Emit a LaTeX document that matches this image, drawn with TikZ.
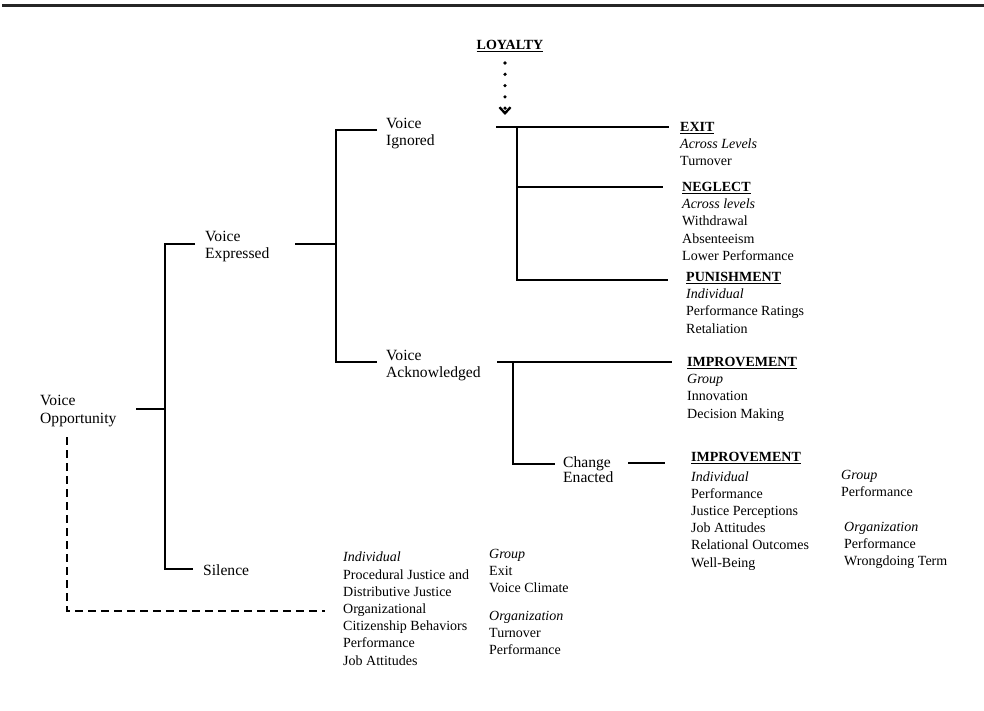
\documentclass[tikz,border=0pt]{standalone}
\usepackage{fontspec}
\setmainfont{Liberation Serif}
\usetikzlibrary{arrows.meta}
\tikzset{
  lab/.style={anchor=north west, inner sep=0pt, align=left, font=\fontsize{15.6}{17.6}\selectfont},
  txt/.style={anchor=north west, inner sep=0pt, align=left, font=\fontsize{14}{17.2}\selectfont},
  conn/.style={line width=2.8pt, line join=miter},
  dashconn/.style={line width=2.6pt, dash pattern=on 8pt off 5pt},
}
\begin{document}
\begin{tikzpicture}[x=1pt,y=-1pt]
\useasboundingbox (0,0) rectangle (984,711);
% top rule
\coordinate (r1) at (2,5.5); \coordinate (r2) at (984,5.5);
\draw[line width=2.2pt, black!85] (r1) -- (r2);

% labels
\node[lab] (vo) at (40,395) {Voice\\Opportunity};
\node[lab] (ve) at (205,230.5) {Voice\\Expressed};
\node[lab] (vi) at (386,117.5) {Voice\\Ignored};
\node[lab] (va) at (386,349.5) {Voice\\Acknowledged};
\node[lab, font=\fontsize{15.6}{14.5}\selectfont] (ce) at (563,456.5) {Change\\Enacted};
\node[lab] (si) at (203,564.5) {Silence};

% loyalty
\node[anchor=center, inner sep=0pt, font=\fontsize{14}{17}\selectfont\bfseries] (loy) at (510,46) {\underline{LOYALTY}};

% outcome blocks
\node[txt] (exit) at (680,122) {\underline{\textbf{EXIT}}\\\textit{Across Levels}\\Turnover};
\node[txt] (neg) at (682,182) {\underline{\textbf{NEGLECT}}\\\textit{Across levels}\\Withdrawal\\Absenteeism\\Lower Performance};
\node[txt] (pun) at (686,272) {\underline{\textbf{PUNISHMENT}}\\\textit{Individual}\\Performance Ratings\\Retaliation};
\node[txt] (imp1) at (687,357) {\underline{\textbf{IMPROVEMENT}}\\\textit{Group}\\Innovation\\Decision Making};
\node[txt] (imp2) at (691,452) {\underline{\textbf{IMPROVEMENT}}\\[2.5pt]\textit{Individual}\\Performance\\Justice Perceptions\\Job Attitudes\\Relational Outcomes\\Well-Being};
\node[txt] (impg) at (841,470) {\textit{Group}\\Performance};
\node[txt] (impo) at (844,522) {\textit{Organization}\\Performance\\Wrongdoing Term};
\node[txt] (sind) at (343,552) {\textit{Individual}\\Procedural Justice and\\Distributive Justice\\Organizational\\Citizenship Behaviors\\Performance\\Job Attitudes};
\node[txt] (sgrp) at (489,549) {\textit{Group}\\Exit\\Voice Climate};
\node[txt] (sorg) at (489,611) {\textit{Organization}\\Turnover\\Performance};

% junction coordinates
\coordinate (vo1) at (136,409); \coordinate (t0) at (165,409);
\coordinate (t1) at (165,244); \coordinate (t2) at (165,569);
\coordinate (ve0) at (195,244); \coordinate (si0) at (193,569);
\coordinate (ve1) at (295,244); \coordinate (e0) at (336,244);
\coordinate (e1) at (336,130); \coordinate (e2) at (336,362);
\coordinate (vi0) at (377,130); \coordinate (va0) at (377,362);
\coordinate (g0) at (496,127); \coordinate (g1) at (517,127);
\coordinate (g2) at (517,187); \coordinate (g3) at (517,280);
\coordinate (ex0) at (669,127); \coordinate (ne0) at (663,187); \coordinate (pu0) at (668,280);
\coordinate (a0) at (497,362); \coordinate (a1) at (513,362); \coordinate (a2) at (513,464);
\coordinate (im0) at (672,362); \coordinate (ce0) at (555,464);
\coordinate (ce1) at (628,463); \coordinate (ce2) at (665,463);
\coordinate (d0) at (67,437); \coordinate (d1) at (67,611); \coordinate (d2) at (325,611);
\coordinate (l0) at (505,63); \coordinate (l1) at (505,115);

% connectors
\draw[conn] (vo1) -- (t0);
\draw[conn] (ve0) -- (t1) -- (t2) -- (si0);
\draw[conn] (ve1) -- (e0);
\draw[conn] (vi0) -- (e1) -- (e2) -- (va0);
\draw[conn] (g0) -- (ex0);
\draw[conn] (g1) -- (g3) -- (pu0);
\draw[conn] (g2) -- (ne0);
\draw[conn] (a0) -- (im0);
\draw[conn] (a1) -- (a2) -- (ce0);
\draw[conn] (ce1) -- (ce2);
\draw[dashconn] (d0) -- (d1) -- (d2);
\draw[line width=3.6pt, line cap=round, dash pattern=on 0pt off 11.3pt, -{Straight Barb[length=6pt,width=11pt,line width=2.4pt]}] (l0) -- (l1);
\end{tikzpicture}
\end{document}
